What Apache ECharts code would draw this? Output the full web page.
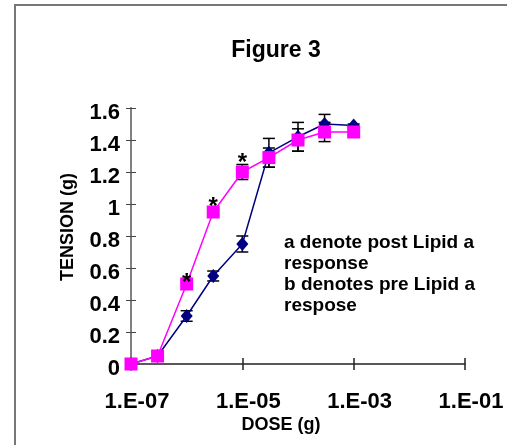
<!DOCTYPE html>
<html>
<head>
<meta charset="utf-8">
<title>Figure 3</title>
<script src="https://cdn.jsdelivr.net/npm/echarts@6/dist/echarts.min.js"></script>
<style>
  html, body { margin: 0; padding: 0; background: #fff; }
  #chart { width: 507px; height: 445px; }
</style>
</head>
<body>
<div id="chart"></div>
<script>
// dose in grams
var doses = [1e-7, 3e-7, 1e-6, 3e-6, 1e-5, 3e-5, 1e-4, 3e-4, 1e-3];
// post Lipid a (blue diamonds)
var postLipid = [0, 0.05, 0.3, 0.55, 0.75, 1.32, 1.42, 1.5, 1.49];
var postErr = [0, 0, 0.033, 0.031, 0.05, 0.09, 0.09, 0.06, 0.01];
// pre Lipid a (pink squares)
var preLipid = [0, 0.05, 0.5, 0.95, 1.2, 1.29, 1.4, 1.45, 1.45];
var preErr = [0, 0, 0, 0.02, 0.047, 0.06, 0.07, 0.06, 0.02];
var preSig = [0, 0, 1, 1, 1, 0, 0, 0, 0];
var yTicks = { min: 0, max: 1.6, step: 0.2 };
var xDecades = { min: 0, max: 6, step: 2 }; // decades above 1.E-07

var FONT = '"Liberation Sans", Arial, sans-serif';

function decade(d) {
  return Math.log10(d / 1e-7);
}

function points(vals) {
  return doses.map(function (d, i) { return [decade(d), vals[i]]; });
}

function errRows(vals, errs, sig) {
  return doses.map(function (d, i) {
    return [decade(d), vals[i], errs[i], sig ? sig[i] : 0];
  });
}

function renderErr(params, api) {
  var x = api.value(0), y = api.value(1), e = api.value(2);
  var top = api.coord([x, y + e]);
  var bot = api.coord([x, y - e]);
  var st = { stroke: '#000', lineWidth: 1.5 };
  if (!(e > 0)) return { type: 'group', children: [] };
  return {
    type: 'group',
    children: [
      { type: 'line', shape: { x1: top[0], y1: top[1], x2: bot[0], y2: bot[1] }, style: st },
      { type: 'line', shape: { x1: top[0] - 6, y1: top[1], x2: top[0] + 6, y2: top[1] }, style: st },
      { type: 'line', shape: { x1: bot[0] - 6, y1: bot[1], x2: bot[0] + 6, y2: bot[1] }, style: st }
    ]
  };
}

// significance star sits just above the upper error cap
function renderStar(params, api) {
  var x = api.value(0), y = api.value(1), e = api.value(2), s = api.value(3);
  if (!s) return { type: 'group', children: [] };
  var top = api.coord([x, y + e]);
  return {
    type: 'text',
    style: {
      text: '*', x: top[0], y: top[1] - 1,
      align: 'center', verticalAlign: 'middle',
      font: 'bold 24px ' + FONT, fill: '#000'
    }
  };
}

var chart = echarts.init(document.getElementById('chart'));

chart.setOption({
  animation: false,
  backgroundColor: '#fff',
  grid: { left: 131, right: 42, top: 108, bottom: 81 },
  graphic: [
    {
      type: 'rect', z: -1,
      shape: { x: 15, y: 5, width: 560, height: 500 },
      style: { fill: 'none', stroke: '#777', lineWidth: 2 }
    },
    {
      type: 'text', x: 276, y: 51,
      style: {
        text: 'Figure 3', font: 'bold 23px ' + FONT, fill: '#000',
        align: 'center', verticalAlign: 'middle'
      }
    },
    {
      type: 'text', left: 284, top: 232,
      style: {
        text: 'a denote post Lipid a\nresponse\nb denotes pre Lipid a\nrespose',
        font: 'bold 19px ' + FONT, lineHeight: 21, fill: '#000'
      }
    }
  ],
  xAxis: [
    {
      type: 'value',
      min: xDecades.min, max: xDecades.max, interval: xDecades.step,
      name: 'DOSE (g)', nameLocation: 'middle', nameGap: 52, nameMoveOverlap: false,
      nameTextStyle: { fontFamily: FONT, fontWeight: 'bold', fontSize: 18, color: '#000', padding: [0, 34, 0, 0] },
      axisLine: { lineStyle: { color: '#222', width: 1.5 } },
      axisTick: { show: true, length: 6, lineStyle: { color: '#222', width: 1.5 } },
      splitLine: { show: false },
      axisLabel: {
        margin: 27, fontFamily: FONT, fontWeight: 'bold', fontSize: 22, color: '#000',
        padding: [0, 0, 0, 12],
        formatter: function (v) { return '1.E-' + String(7 - v).padStart(2, '0'); }
      }
    },
    {
      type: 'value', position: 'bottom',
      min: xDecades.min, max: xDecades.max, interval: xDecades.step,
      axisLine: { show: false },
      axisTick: { show: true, inside: true, length: 6, lineStyle: { color: '#222', width: 1.5 } },
      axisLabel: { show: false },
      splitLine: { show: false }
    }
  ],
  yAxis: [
    {
      type: 'value',
      min: yTicks.min, max: yTicks.max, interval: yTicks.step,
      name: 'TENSION (g)', nameLocation: 'middle', nameGap: 54, nameMoveOverlap: false,
      nameTextStyle: { fontFamily: FONT, fontWeight: 'bold', fontSize: 18, color: '#000', padding: [0, 0, 0, 18] },
      axisLine: { show: true, lineStyle: { color: '#808080', width: 2 } },
      axisTick: { show: true, length: 5, lineStyle: { color: '#444', width: 1 } },
      splitLine: { show: false },
      axisLabel: {
        margin: 11, color: '#000',
        formatter: function (v) { return '{v|' + v + '}'; },
        rich: {
          v: { fontFamily: FONT, fontWeight: 'bold', fontSize: 22, color: '#000', padding: [10, 0, 0, 0] }
        }
      }
    },
    {
      type: 'value', position: 'left',
      min: yTicks.min, max: yTicks.max, interval: yTicks.step,
      axisLine: { show: false },
      axisTick: { show: true, inside: true, length: 5, lineStyle: { color: '#444', width: 1 } },
      axisLabel: { show: false },
      splitLine: { show: false }
    }
  ],
  series: [
    {
      name: 'post err', type: 'custom', z: 1,
      renderItem: renderErr,
      data: errRows(postLipid, postErr),
      encode: { x: 0, y: 1 }
    },
    {
      name: 'pre err', type: 'custom', z: 1,
      renderItem: renderErr,
      data: errRows(preLipid, preErr),
      encode: { x: 0, y: 1 }
    },
    {
      name: 'post Lipid a', type: 'line', z: 3,
      data: points(postLipid),
      symbol: 'diamond', symbolSize: [12, 14],
      lineStyle: { color: '#000080', width: 1.5 },
      itemStyle: { color: '#000080' }
    },
    {
      name: 'pre Lipid a', type: 'line', z: 4,
      data: points(preLipid),
      symbol: 'rect', symbolSize: 13,
      lineStyle: { color: '#ff00ff', width: 1.5 },
      itemStyle: { color: '#ff00ff' }
    },
    {
      name: 'stars', type: 'custom', z: 5,
      renderItem: renderStar,
      data: errRows(preLipid, preErr, preSig),
      encode: { x: 0, y: 1 }
    }
  ]
});
</script>
</body>
</html>
